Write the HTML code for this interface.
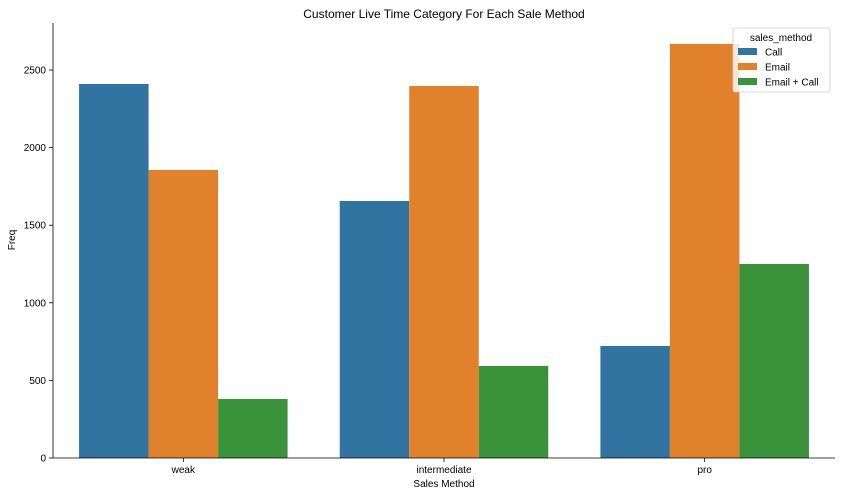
<!DOCTYPE html>
<html><head><meta charset="utf-8"><style>
html,body{margin:0;padding:0;background:#fff;}
svg{display:block;font-family:"Liberation Sans","DejaVu Sans",sans-serif;}
</style></head><body>
<svg id="chart" width="841" height="496">
<text x="444" y="18" text-anchor="middle" font-size="12">Customer Live Time Category For Each Sale Method</text>
<g id="bars"></g>
<g id="yaxis"></g>
<g id="xaxis"></g>
<line x1="53" y1="23" x2="53" y2="458" stroke="#000" stroke-width="0.8"/>
<line x1="53" y1="458" x2="835" y2="458" stroke="#000" stroke-width="0.8"/>
<text x="444" y="487" text-anchor="middle" font-size="10">Sales Method</text>
<text x="0" y="0" transform="translate(15,240) rotate(-90)" text-anchor="middle" font-size="10">Freq</text>
<g id="legend">
<rect x="733" y="28" width="97" height="64" rx="2" fill="#fff" fill-opacity="0.8" stroke="#ccc" stroke-width="0.8"/>
<text x="781" y="41" text-anchor="middle" font-size="10">sales_method</text>
</g>
</svg>
<script>
const categories = ["weak","intermediate","pro"];
const seriesNames = ["Call","Email","Email + Call"];
const callValues = [2410, 1656, 722];
const emailValues = [1856, 2397, 2668];
const emailCallValues = [380, 593, 1250];
const yTicks = [0,500,1000,1500,2000,2500];
const colors = ["#3274a1","#e1812c","#3a923a"];
const series = [callValues, emailValues, emailCallValues];
const NS="http://www.w3.org/2000/svg";
const x0=53, x1=835, yBase=458, pxPer=77.6/500;
const y = v => yBase - v*pxPer;
const groupW=(x1-x0)/categories.length;
const barW=groupW*0.8/series.length;
const bars=document.getElementById('bars');
series.forEach((vals,s)=>{
  vals.forEach((v,i)=>{
    const r=document.createElementNS(NS,'rect');
    const gx=x0+groupW*i+groupW*0.1+barW*s;
    r.setAttribute('x',gx);r.setAttribute('width',barW);
    r.setAttribute('y',y(v));r.setAttribute('height',yBase-y(v));
    r.setAttribute('fill',colors[s]);
    
    
    bars.appendChild(r);
  });
});
const ya=document.getElementById('yaxis');
yTicks.forEach(t=>{
  const l=document.createElementNS(NS,'line');
  l.setAttribute('x1',49);l.setAttribute('x2',53);l.setAttribute('y1',y(t));l.setAttribute('y2',y(t));
  l.setAttribute('stroke','#000');l.setAttribute('stroke-width','0.8');
  
  
  ya.appendChild(l);
  const tx=document.createElementNS(NS,'text');
  tx.setAttribute('x',46);tx.setAttribute('y',y(t)+3.5);tx.setAttribute('text-anchor','end');tx.setAttribute('font-size','10');
  tx.textContent=t;
  
  
  ya.appendChild(tx);
});
const xa=document.getElementById('xaxis');
categories.forEach((c,i)=>{
  const cx=x0+groupW*(i+0.5);
  const l=document.createElementNS(NS,'line');
  l.setAttribute('x1',cx);l.setAttribute('x2',cx);l.setAttribute('y1',458);l.setAttribute('y2',462);
  l.setAttribute('stroke','#000');l.setAttribute('stroke-width','0.8');
  
  
  xa.appendChild(l);
  const tx=document.createElementNS(NS,'text');
  tx.setAttribute('x',cx);tx.setAttribute('y',473);tx.setAttribute('text-anchor','middle');tx.setAttribute('font-size','10');
  tx.textContent=c;
  
  
  xa.appendChild(tx);
});
const lg=document.getElementById('legend');
seriesNames.forEach((n,s)=>{
  const yy=52+s*15;
  const r=document.createElementNS(NS,'rect');
  r.setAttribute('x',738);r.setAttribute('y',yy-4);r.setAttribute('width',19);r.setAttribute('height',7);
  r.setAttribute('fill',colors[s]);
  
  
  lg.appendChild(r);
  const tx=document.createElementNS(NS,'text');
  tx.setAttribute('x',765);tx.setAttribute('y',yy+3.5);tx.setAttribute('font-size','10');
  tx.textContent=n;
  
  
  lg.appendChild(tx);
});
</script>
</body></html>
